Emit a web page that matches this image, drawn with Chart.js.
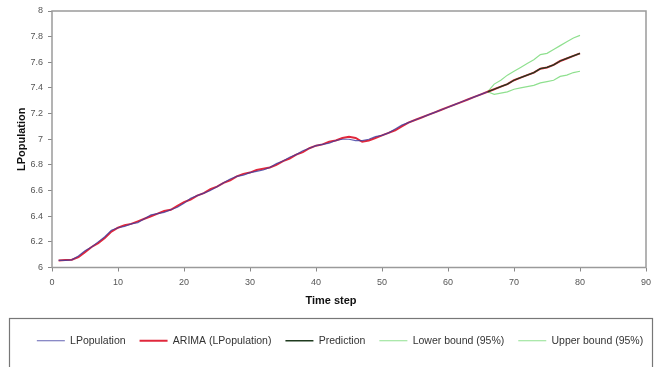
<!DOCTYPE html>
<html>
<head>
<meta charset="utf-8">
<script src="https://cdn.jsdelivr.net/npm/chart.js@4/dist/chart.umd.min.js"></script>
<style>
  html, body { margin: 0; padding: 0; background: #fff; }
  #wrap { width: 660px; height: 367px; position: relative; }
</style>
</head>
<body>
<div id="wrap"><canvas id="chart"></canvas></div>
<script>
// time steps 1..66 observed, forecast 66..80
const obsSteps = Array.from({ length: 66 }, (_, i) => i + 1);
const lpopulation = [
  6.055, 6.055, 6.06, 6.09, 6.13, 6.16, 6.20, 6.24, 6.29, 6.31,
  6.32, 6.34, 6.35, 6.38, 6.41, 6.42, 6.43, 6.45, 6.47, 6.50,
  6.54, 6.56, 6.58, 6.60, 6.63, 6.66, 6.69, 6.71, 6.72, 6.74,
  6.75, 6.76, 6.78, 6.81, 6.83, 6.86, 6.88, 6.91, 6.93, 6.95,
  6.96, 6.97, 6.99, 7.00, 7.00, 6.99, 6.99, 7.00, 7.02, 7.03,
  7.05, 7.08, 7.11, 7.13, 7.15, 7.17, 7.19, 7.21, 7.23, 7.25,
  7.27, 7.29, 7.31, 7.33, 7.35, 7.37
];

const arimaSteps = Array.from({ length: 80 }, (_, i) => i + 1);
const arimaFit = [
  6.055, 6.058, 6.06, 6.08, 6.12, 6.16, 6.19, 6.23, 6.28, 6.31,
  6.33, 6.34, 6.36, 6.38, 6.40, 6.42, 6.44, 6.45, 6.48, 6.51,
  6.53, 6.56, 6.58, 6.61, 6.63, 6.66, 6.68, 6.71, 6.73, 6.74,
  6.76, 6.77, 6.78, 6.80, 6.83, 6.85, 6.88, 6.90, 6.93, 6.95,
  6.96, 6.98, 6.99, 7.01, 7.02, 7.01, 6.98, 6.99, 7.01, 7.03,
  7.05, 7.07, 7.10, 7.13, 7.15, 7.17, 7.19, 7.21, 7.23, 7.25,
  7.27, 7.29, 7.31, 7.33, 7.35, 7.37,
  7.39, 7.41, 7.43, 7.46, 7.48, 7.50, 7.52, 7.55, 7.56, 7.58, 7.61, 7.63, 7.65, 7.67
];

const fcSteps = [66, 67, 68, 69, 70, 71, 72, 73, 74, 75, 76, 77, 78, 79, 80];
const prediction = [7.37, 7.39, 7.41, 7.43, 7.46, 7.48, 7.50, 7.52, 7.55, 7.56, 7.58, 7.61, 7.63, 7.65, 7.67];
const lowerBound = [7.37, 7.35, 7.36, 7.37, 7.39, 7.40, 7.41, 7.42, 7.44, 7.45, 7.46, 7.49, 7.50, 7.52, 7.53];
const upperBound = [7.37, 7.43, 7.46, 7.50, 7.53, 7.56, 7.59, 7.62, 7.66, 7.67, 7.70, 7.73, 7.76, 7.79, 7.81];

const xTicks = [0, 10, 20, 30, 40, 50, 60, 70, 80, 90];
const yTicks = [6, 6.2, 6.4, 6.6, 6.8, 7, 7.2, 7.4, 7.6, 7.8, 8];

function zip(xs, ys) {
  return xs.map((x, i) => ({ x: x, y: ys[i] }));
}

const FONT = "'Liberation Sans', Arial, sans-serif";

// plot frame, legend box and x title
const decor = {
  id: "decor",
  afterDraw(chart) {
    const ctx = chart.ctx;
    const a = chart.chartArea;
    ctx.save();
    ctx.strokeStyle = "#9a9a9a";
    ctx.lineWidth = 1.5;
    ctx.strokeRect(a.left, a.top, a.right - a.left, a.bottom - a.top);

    ctx.strokeStyle = "#777";
    ctx.lineWidth = 1.2;
    ctx.strokeRect(9.5, 318.5, 643, 60);

    ctx.fillStyle = "#111";
    ctx.font = "bold 11px " + FONT;
    ctx.textAlign = "center";
    ctx.textBaseline = "middle";
    ctx.fillText("Time step", 331, 301);
    ctx.restore();
  }
};

new Chart(document.getElementById("chart"), {
  type: "line",
  data: {
    datasets: [
      {
        label: "LPopulation",
        data: zip(obsSteps, lpopulation),
        borderColor: "rgba(60,60,160,0.8)",
        backgroundColor: "rgba(60,60,160,0.8)",
        borderWidth: 1.2,
        order: 1
      },
      {
        label: "ARIMA (LPopulation)",
        data: zip(arimaSteps, arimaFit),
        borderColor: "#e0283c",
        backgroundColor: "#e0283c",
        borderWidth: 2,
        order: 2
      },
      {
        label: "Prediction",
        data: zip(fcSteps, prediction),
        borderColor: "#1e3a1e",
        backgroundColor: "#1e3a1e",
        borderWidth: 1.3,
        order: 0
      },
      {
        label: "Lower bound (95%)",
        data: zip(fcSteps, lowerBound),
        borderColor: "#8fe08f",
        backgroundColor: "#8fe08f",
        borderWidth: 1.2,
        order: 3
      },
      {
        label: "Upper bound (95%)",
        data: zip(fcSteps, upperBound),
        borderColor: "#8fe08f",
        backgroundColor: "#8fe08f",
        borderWidth: 1.2,
        order: 3
      }
    ]
  },
  options: {
    responsive: true,
    maintainAspectRatio: false,
    animation: false,
    layout: { padding: { left: 20, right: 0, top: 11, bottom: 11 } },
    elements: { point: { radius: 0 }, line: { tension: 0 } },
    plugins: {
      tooltip: { enabled: false },
      legend: {
        position: "bottom",
        labels: {
          usePointStyle: true,
          pointStyle: "line",
          pointStyleWidth: 28,
          padding: 14,
          color: "#333",
          font: { family: FONT, size: 10.5 },
          sort: (a, b) => a.datasetIndex - b.datasetIndex
        }
      }
    },
    scales: {
      x: {
        type: "linear",
        min: 0,
        max: 90,
        afterBuildTicks: (s) => { s.ticks = xTicks.map((v) => ({ value: v })); },
        afterFit: (s) => { s.height = 54; },
        border: { display: false },
        grid: { drawOnChartArea: false, tickLength: 4, color: "#888" },
        ticks: { color: "#555", padding: 6, font: { family: FONT, size: 9 } }
      },
      y: {
        min: 6,
        max: 8,
        afterBuildTicks: (s) => { s.ticks = yTicks.map((v) => ({ value: v })); },
        afterFit: (s) => { s.width = 32; },
        border: { display: false },
        grid: { drawOnChartArea: false, tickLength: 4, color: "#888" },
        ticks: {
          color: "#555",
          padding: 5,
          font: { family: FONT, size: 9 },
          callback: (v) => String(Math.round(v * 10) / 10)
        },
        title: {
          display: true,
          text: "LPopulation",
          color: "#111",
          padding: { top: -5 },
          font: { family: FONT, size: 11, weight: "bold" }
        }
      },
      y2: {
        position: "right",
        min: 6,
        max: 8,
        afterFit: (s) => { s.width = 14; },
        border: { display: false },
        grid: { display: false },
        ticks: { display: false }
      }
    }
  },
  plugins: [decor]
});
</script>
</body>
</html>
